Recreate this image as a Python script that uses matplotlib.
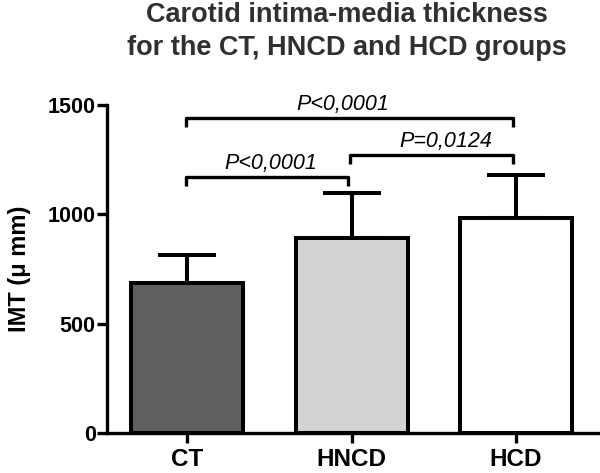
import matplotlib
matplotlib.use("Agg")
import matplotlib.pyplot as plt

plt.rcParams['font.family'] = ['Liberation Sans', 'DejaVu Sans']

groups = ["CT", "HNCD", "HCD"]
means = [686, 892, 983]
sds = [130, 205, 197]
colors = ["#606060", "#d3d3d3", "#ffffff"]

# comparisons: (left group, right group, bracket height, text x, text)
comparisons = [
    (0, 1, 1170, 0.51, "P<0,0001"),
    (1, 2, 1271, 1.575, "P=0,0124"),
    (0, 2, 1440, 0.945, "P<0,0001"),
]

fig = plt.figure(figsize=(6, 4.73), dpi=100)
ax = fig.add_axes([0.178, 0.0846, 0.819, 0.6934])

x = range(len(groups))
lw = 2.9
thin = 2.4
ax.bar(x, means, width=0.68, color=colors, edgecolor="black", linewidth=lw, zorder=2)
ax.errorbar(x, [m + s / 2 for m, s in zip(means, sds)], yerr=[[s / 2 for s in sds], [s / 2 for s in sds]],
            fmt="none", ecolor="black", elinewidth=lw, capsize=21, capthick=lw, zorder=1)

for a, b, h, tx, txt in comparisons:
    drop = 42
    ax.plot([a - 0.01, a - 0.01, b - 0.02, b - 0.02], [h - drop, h, h, h - drop],
            color="black", lw=thin, clip_on=False, solid_capstyle="butt")
    ax.text(tx, h + 38, txt, ha="center", va="baseline", fontsize=15.5,
            style="italic", clip_on=False)

ax.set_xlim(-0.49, 2.5)
ax.set_ylim(0, 1500)
ax.set_yticks([0, 500, 1000, 1500])
ax.set_xticks(list(x))
ax.set_xticklabels(groups)
for lab in ax.get_xticklabels():
    lab.set_fontweight("bold")
    lab.set_fontsize(17.5)
for lab in ax.get_yticklabels():
    lab.set_fontweight("bold")
    lab.set_fontsize(15.5)
ax.tick_params(axis="y", width=thin, length=7, pad=1, colors="black")
ax.tick_params(axis="x", width=thin, length=7, pad=4, colors="black")
ax.spines["top"].set_visible(False)
ax.spines["right"].set_visible(False)
ax.spines["left"].set_linewidth(thin)
ax.spines["bottom"].set_linewidth(thin)
ax.set_ylabel("IMT (\u03bc mm)", fontsize=17, fontweight="bold", va="center")
ax.yaxis.set_label_coords(-0.178, 0.5)

fig.text(0.578, 1 - 22 / 473, "Carotid intima-media thickness",
         ha="center", va="baseline", fontsize=19.5, fontweight="bold", color="#303030")
fig.text(0.578, 1 - 55 / 473, "for the CT, HNCD and HCD groups",
         ha="center", va="baseline", fontsize=19.5, fontweight="bold", color="#303030")

fig.savefig("out.png", dpi=100)
